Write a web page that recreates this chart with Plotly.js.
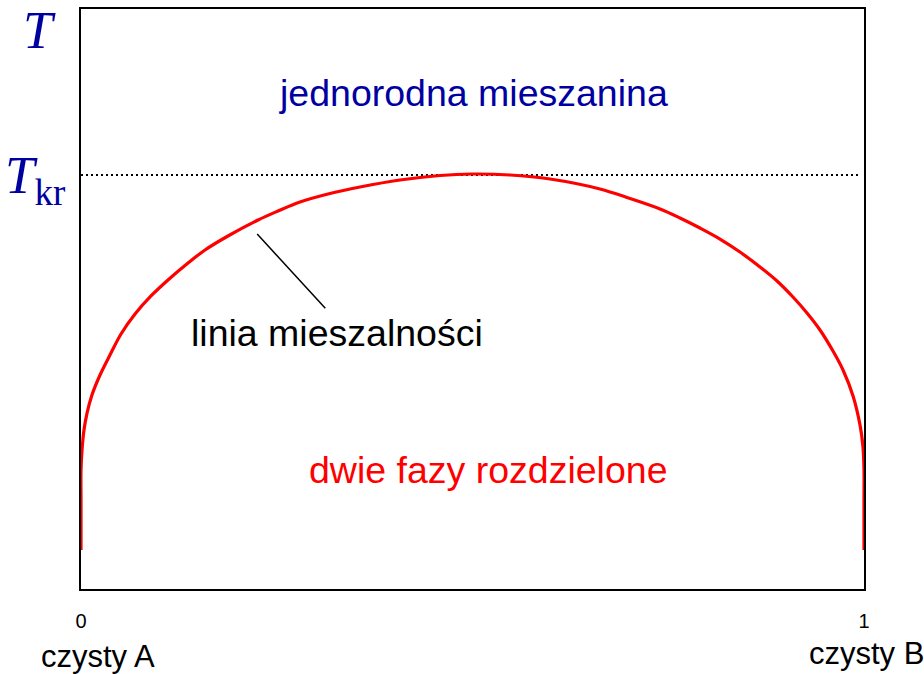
<!DOCTYPE html>
<html>
<head>
<meta charset="utf-8">
<script src="https://cdn.plot.ly/plotly-3.0.1.min.js"></script>
<style>html,body{margin:0;padding:0;background:#fff;}#chart{width:924px;height:674px;}</style>
</head>
<body>
<div id="chart"></div>
<script>
// Miscibility curve (x = mole fraction of B, T in relative units)
const curveX = [0, 0, 0, 0.0013, 0.0038, 0.0077, 0.0140, 0.0243, 0.0370, 0.0511, 0.0690, 0.0894, 0.1111, 0.1367, 0.1584, 0.1877, 0.2261, 0.2516, 0.2797, 0.3180, 0.3563, 0.4074, 0.4585, 0.4994,
                0.5479, 0.5990, 0.6628, 0.7011, 0.7395, 0.7650, 0.7905, 0.8161, 0.8416, 0.8672, 0.8889, 0.9093, 0.9272, 0.9438, 0.9604, 0.9732, 0.9860, 0.9949, 0.9987, 1, 1, 1];
const curveT = [0.0672, 0.1534, 0.2052, 0.2397, 0.2741, 0.3034, 0.3345, 0.3690, 0.4034, 0.4397, 0.4741, 0.5052, 0.5328, 0.5621, 0.5845, 0.6086, 0.6362, 0.6517, 0.6672, 0.6819, 0.6931, 0.7052, 0.7129, 0.7155,
                0.7138, 0.7069, 0.6897, 0.6733, 0.6552, 0.6397, 0.6224, 0.6034, 0.5810, 0.5552, 0.5310, 0.5034, 0.4759, 0.4466, 0.4103, 0.3776, 0.3328, 0.2828, 0.2448, 0.2052, 0.1534, 0.0672];

// Critical temperature line
const Tkr = 0.714;
const tkrLineX = [0, 0.994];
const tkrLineT = [Tkr, Tkr];

// Leader line for the curve label
const leaderX = [0.225, 0.312];
const leaderT = [0.612, 0.484];

// Axis ticks
const xTickVals = [0, 1];
const xTickText = ['0', '1'];
const yTickVals = [Tkr];
const yTickText = ['<i>T</i><sub>kr</sub>'];
const yAxisTitleText = '<i>T</i>';

// Labels
const labelTexts = ['jednorodna mieszanina', 'linia mieszalności', 'dwie fazy rozdzielone', 'czysty A', 'czysty B'];

const blue = '#0000A0';
const sans = 'Liberation Sans, Arial, sans-serif';
const serif = 'Liberation Serif, Times New Roman, serif';

const traces = [
  {x: tkrLineX, y: tkrLineT, mode: 'lines', line: {color: '#000', width: 2, dash: '2px,3px'}, hoverinfo: 'skip'},
  {x: leaderX, y: leaderT, mode: 'lines', line: {color: '#000', width: 1.5}, hoverinfo: 'skip'},
  {x: curveX, y: curveT, mode: 'lines', line: {color: '#FF0000', width: 3.2, shape: 'spline', smoothing: 1}, hoverinfo: 'skip'}
];

const layout = {
  width: 924, height: 674,
  margin: {l: 81, r: 60, t: 9, b: 85},
  paper_bgcolor: '#fff', plot_bgcolor: '#fff',
  showlegend: false, hovermode: false,
  xaxis: {
    range: [0, 1], showgrid: false, zeroline: false,
    showline: true, linecolor: '#000', linewidth: 2, mirror: true,
    tickvals: xTickVals, ticktext: xTickText, ticks: '',
    ticklabelstandoff: 13,
    tickfont: {family: sans, size: 20, color: '#000'}
  },
  yaxis: {
    range: [0, 1], showgrid: false, zeroline: false,
    showline: true, linecolor: '#000', linewidth: 2, mirror: true,
    tickvals: yTickVals, ticktext: yTickText, ticks: '',
    ticklabelstandoff: 3,
    tickfont: {family: serif, size: 53, color: blue}
  },
  annotations: [
    {x: -0.029, y: 0.964, xref: 'paper', yref: 'paper', xanchor: 'right', yanchor: 'middle',
     text: yAxisTitleText, showarrow: false, font: {family: serif, size: 53, color: blue}},
    {x: 0.501, y: 0.855, xref: 'x', yref: 'y', text: labelTexts[0], showarrow: false,
     font: {family: sans, size: 37.5, color: blue}},
    {x: 0.327, y: 0.441, xref: 'x', yref: 'y', text: labelTexts[1], showarrow: false,
     font: {family: sans, size: 37.5, color: '#000'}},
    {x: 0.520, y: 0.205, xref: 'x', yref: 'y', text: labelTexts[2], showarrow: false,
     font: {family: sans, size: 37.5, color: '#FF0000'}},
    {x: 0.022, y: -0.117, xref: 'paper', yref: 'paper', xanchor: 'center', yanchor: 'middle',
     text: labelTexts[3], showarrow: false, font: {family: sans, size: 31, color: '#000'}},
    {x: 0.927, y: -0.112, xref: 'paper', yref: 'paper', xanchor: 'left', yanchor: 'middle',
     text: labelTexts[4], showarrow: false, font: {family: sans, size: 31, color: '#000'}}
  ]
};

Plotly.newPlot('chart', traces, layout, {displayModeBar: false, staticPlot: true});
</script>
</body>
</html>
